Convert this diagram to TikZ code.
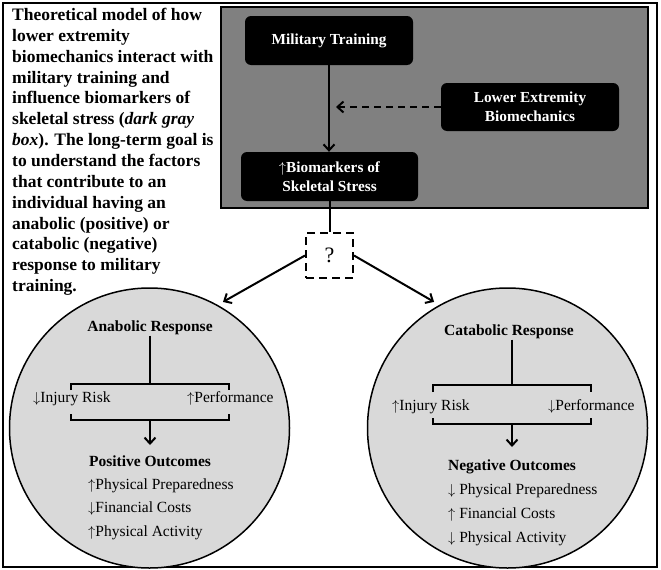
\documentclass[tikz,border=0pt]{standalone}
\usepackage{fontspec}
\setmainfont{Liberation Serif}
\usetikzlibrary{arrows.meta}
\definecolor{panelgray}{HTML}{808080}
\definecolor{circlegray}{HTML}{D9D9D9}
\newcommand{\UpA}{\ensuremath{\uparrow}}
\newcommand{\DnA}{\ensuremath{\downarrow}}
\tikzset{
  frame/.style={draw=black, line width=2pt},
  panel/.style={draw=black, line width=1.5pt, fill=panelgray, inner sep=0, minimum width=427pt, minimum height=201pt},
  blackbox/.style={fill=black, rounded corners=6pt, text=white, font=\fontsize{15.3}{19}\selectfont\bfseries, align=center, inner sep=0, minimum height=49pt},
  qbox/.style={draw=black, dash pattern=on 8pt off 5pt, line width=2pt, minimum width=47pt, minimum height=45pt, inner sep=0, font=\fontsize{22}{22}\selectfont},
  circ/.style={circle, draw=black, line width=1.5pt, fill=circlegray, minimum size=280pt, inner sep=0},
  head/.style={font=\fontsize{15.5}{18}\selectfont\bfseries, inner sep=1pt, anchor=base},
  lbl/.style={font=\fontsize{15.5}{18}\selectfont, inner sep=0, anchor=base west},
  conn/.style={line width=2pt},
  arr/.style={line width=2pt, -{Straight Barb[length=6pt,width=11pt]}},
  dasharr/.style={arr, dash pattern=on 7pt off 5pt},
  brk/.style={line width=2.5pt},
}
\begin{document}
\begin{tikzpicture}[x=1pt,y=-1pt]
\useasboundingbox (0,0) rectangle (661,570);
\draw[frame] (3,3) rectangle (657,567);

\node[anchor=north west, inner sep=0, align=left, font=\fontsize{17.5}{20.85}\selectfont\bfseries] (cap) at (12,8) {Theoretical model of how\\lower extremity\\biomechanics interact with\\military training and\\influence biomarkers of\\skeletal stress (\textit{dark gray}\\\textit{box}). The long-term goal is\\to understand the factors\\that contribute to an\\individual having an\\anabolic (positive) or\\catabolic (negative)\\response to military\\training.};

\node[panel] (panel) at (434.5,107.5) {};
\node[blackbox, minimum width=168pt] (mt) at (329,40.5) {Military Training};
\node[blackbox, minimum width=178pt, minimum height=48pt] (leb) at (530,107) {Lower Extremity\\Biomechanics};
\node[blackbox, minimum width=177pt] (bio) at (329.5,176.5) {\UpA Biomarkers of\\Skeletal Stress};
\draw[arr] (mt.south) -- (mt.south |- bio.north);
\coordinate (dj) at (336,107);
\draw[dasharr] (leb.west) -- (dj);

\node[qbox] (q) at (329.5,255.5) {?};
\draw[conn] (bio.south) -- (bio.south |- q.north);

\node[circ] (L) at (149.5,428) {};
\node[circ] (R) at (507.5,428) {};
\draw[arr, shorten >=6pt] (q.west) -- (L.61);
\draw[arr, shorten >=6pt] (q.east) -- (R.119);

% left circle
\node[head] (ah) at (150,331) {Anabolic Response};
\coordinate (ltc) at (150,384);
\coordinate (ltl) at (71,390);
\coordinate (ltr) at (229,390);
\coordinate (lbl) at (71,414);
\coordinate (lbr) at (229,414);
\coordinate (lbc) at (150,420);
\coordinate (lend) at (150,445);
\draw[conn] (ah.south) -- (ltc);
\draw[brk] (ltl) |- (ltc) -| (ltr);
\draw[brk] (lbl) |- (lbc) -| (lbr);
\draw[arr] (lbc) -- (lend);
\node[lbl] (linj) at (33,402) {\DnA Injury Risk};
\node[lbl] (lperf) at (187,402) {\UpA Performance};
\node[head] (po) at (150,466) {Positive Outcomes};
\node[lbl] (lp1) at (88,489) {\UpA Physical Preparedness};
\node[lbl] (lp2) at (88,512.5) {\DnA Financial Costs};
\node[lbl] (lp3) at (88,536) {\UpA Physical Activity};

% right circle
\node[head] (ch) at (509,335) {Catabolic Response};
\coordinate (rtc) at (512,385);
\coordinate (rtl) at (433,392);
\coordinate (rtr) at (591,392);
\coordinate (rbl) at (433,418);
\coordinate (rbr) at (591,418);
\coordinate (rbc) at (512,424);
\coordinate (rend) at (512,447);
\draw[conn] (rtc |- ch.south) -- (rtc);
\draw[brk] (rtl) |- (rtc) -| (rtr);
\draw[brk] (rbl) |- (rbc) -| (rbr);
\draw[arr] (rbc) -- (rend);
\node[lbl] (rinj) at (392,410) {\UpA Injury Risk};
\node[lbl] (rperf) at (548,410) {\DnA Performance};
\node[head] (no) at (512,470) {Negative Outcomes};
\node[lbl] (rn1) at (448,494) {\DnA{} Physical Preparedness};
\node[lbl] (rn2) at (448,518) {\UpA{} Financial Costs};
\node[lbl] (rn3) at (448,542) {\DnA{} Physical Activity};
\end{tikzpicture}
\end{document}
